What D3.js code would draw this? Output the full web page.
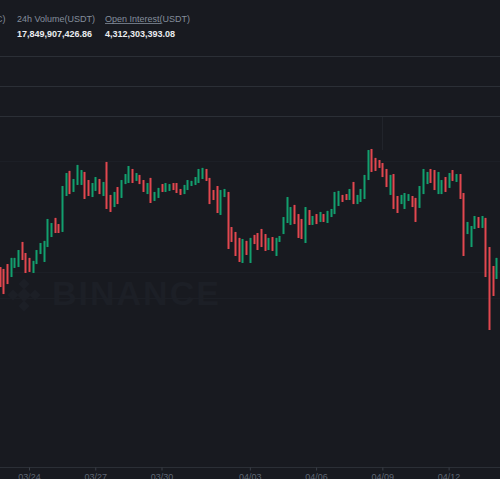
<!DOCTYPE html>
<html>
<head>
<meta charset="utf-8">
<script src="https://cdn.jsdelivr.net/npm/d3@7"></script>
<style>
  html, body { margin: 0; padding: 0; background: #181a20; }
  svg { display: block; }
  text { font-family: "Liberation Sans", Arial, sans-serif; }
</style>
</head>
<body>
<svg id="chart" width="500" height="479"></svg>
<script>
// ---- data (BTCUSDT perpetual, 4h candles) ----
const firstCandleUTC = Date.UTC(2024, 2, 22, 16); // 2024-03-22 16:00
const candleHours = 4;

const opens = [
  64890,64760,65090,64220,64830,64890,66570,65830,65500,64490,
  65090,65760,65230,66230,66900,68180,67770,67240,69650,71330,
  69920,70390,70390,71260,70720,69580,69990,70790,69650,71930,
  69720,68910,70250,69520,70450,70520,71460,70660,71060,70720,
  69780,70860,69320,69520,70450,69920,69990,70520,70520,70120,
  69780,70050,70320,70390,70520,70790,71460,70860,70050,70320,
  68380,69580,69920,67570,67240,66840,65160,66640,65160,67040,
  67170,67440,67100,66030,66900,65630,66570,67100,67840,67710,
  69050,68440,68110,66500,68710,67710,68440,67910,68440,67840,
  68240,68440,68980,69720,69780,69380,70590,69110,69250,69450,
  70720,72800,72200,72060,71860,71460,69720,71120,69650,69110,
  68780,69320,69650,69520,68850,69780,70450,71460,71390,69780,
  69780,70920,70190,71390,70590,71120,69850,67100,66230,67440,
  68240,67510,68180,66230,64960,64090
];
const highs = [
  64890,64760,65090,65500,65500,66030,66570,65830,65500,65300,
  66030,66500,66640,68110,67840,68180,67770,70320,71190,71330,
  70790,71730,71390,71260,70720,70520,70920,70790,70590,71930,
  69720,69920,70250,70720,71120,71660,71460,71190,71060,70720,
  70520,70860,69920,70190,70450,70520,70450,70520,70520,70120,
  70390,70720,70660,70920,71460,71530,71460,70860,70050,70320,
  70050,70120,69920,67570,67240,66840,66770,66640,66840,67040,
  67170,67440,67100,66840,66900,66840,66970,68240,69580,68910,
  69050,68440,68110,68910,68710,68310,68440,68580,68440,68650,
  68780,69920,69990,69720,69780,70120,70590,69720,70120,71060,
  72730,72800,72200,72060,71860,71460,71060,71120,69650,69720,
  69850,69780,69650,69520,70320,71460,71260,71460,71390,71260,
  70720,70920,71190,71390,71120,71120,69850,67910,67640,68310,
  68240,68310,68180,66230,64960,65500
];
const lows = [
  63550,63080,63750,64220,64830,64890,65360,64490,64560,64490,
  65090,65760,65230,66230,66900,67170,67170,67240,69650,69780,
  69920,70390,70390,69450,69650,69580,69990,69780,69650,68780,
  68580,68910,69110,69520,70450,70520,70520,70660,70450,69920,
  69780,69180,69320,69520,69920,69920,69990,70050,69850,69720,
  69780,70050,70320,70390,70520,70790,70660,69110,69380,68510,
  68380,69580,66100,66570,65630,65230,65160,65700,65160,66430,
  66030,66230,65970,66030,65970,65630,66570,67100,67840,67710,
  67770,66840,66770,66500,67710,67710,67770,67910,67910,67840,
  68240,68440,68980,69250,69380,69380,69110,69110,69250,69450,
  70720,71260,71330,71530,70920,70250,69720,68780,68510,69110,
  68780,69320,68910,67910,68850,69780,70450,70520,70050,69780,
  69780,69920,70190,70660,70590,69450,65630,67100,66230,67440,
  67510,67510,64220,60670,62950,64090
];
const closes = [
  63550,63080,63750,65500,65500,66030,65360,64490,64560,65300,
  66030,66500,66640,68110,67840,67170,67170,70320,71190,69780,
  70790,71730,71390,69450,69650,70520,70920,69780,70590,68780,
  68580,69920,69110,70720,71120,71660,70520,71190,70450,69920,
  70520,69180,69920,70190,69920,70520,70450,70050,69850,69720,
  70390,70720,70660,70920,71460,71530,70660,69110,69380,68510,
  70050,70120,66100,66570,65630,65230,66770,65700,66840,66430,
  66030,66230,65970,66840,65970,66840,66970,68240,69580,68910,
  67770,66840,66770,68910,67710,68310,67770,68580,67910,68650,
  68780,69920,69990,69250,69380,70120,69110,69720,70120,71060,
  72730,71260,71330,71530,70920,70250,71060,68780,68510,69720,
  69850,69780,68910,67910,70320,71460,71260,70520,70050,71260,
  70720,69920,71190,70660,71120,69450,65630,67910,67640,68310,
  67510,68310,64220,60670,62950,65500
];

const tickDates = ["2024-03-24","2024-03-27","2024-03-30","2024-04-03","2024-04-06","2024-04-09","2024-04-12"];
const tickLabels = ["03/24","03/27","03/30","04/03","04/06","04/09","04/12"];

const statLabels = ["24h Volume(USDT)", "Open Interest(USDT)"];
const statValues = ["17,849,907,426.86", "4,312,303,393.08"];

// ---- build ----
const candles = opens.map((o, i) => ({
  t: new Date(firstCandleUTC + i * candleHours * 3600e3),
  o, h: highs[i], l: lows[i], c: closes[i]
}));

const svg = d3.select("#chart");
const W = 500, H = 479;
const BG = "#181a20", UP = "#129f6e", DOWN = "#e2474f";

svg.append("rect").attr("width", W).attr("height", H).attr("fill", BG);

// header
const hdr = svg.append("g");
hdr.append("text").attr("x", 5.5).attr("y", 22).attr("text-anchor", "end")
  .attr("font-size", 9).attr("fill", "#848e9c").text("(USDC)");
const statX = [17, 105];
statLabels.forEach((s, i) => {
  hdr.append("text").attr("x", statX[i]).attr("y", 22).attr("font-size", 9)
    .attr("fill", "#848e9c").text(s);
  hdr.append("text").attr("x", statX[i]).attr("y", 36.5).attr("font-size", 9)
    .attr("font-weight", "bold").attr("fill", "#eaecef").text(statValues[i]);
});
hdr.append("line").attr("x1", 105).attr("x2", 161).attr("y1", 23.5).attr("y2", 23.5)
  .attr("stroke", "#848e9c").attr("stroke-width", 0.8);

// panel separators
[56.5, 86.5, 116.5].forEach(y => {
  svg.append("line").attr("x1", 0).attr("x2", W).attr("y1", y).attr("y2", y)
    .attr("stroke", "#2b2f36").attr("stroke-width", 1);
});

// scales
const x = d3.scaleUtc()
  .domain([new Date("2024-03-24T00:00:00Z"), new Date("2024-04-12T00:00:00Z")])
  .range([29, 448.6]);
const y = d3.scaleLinear().domain([60000, 73000]).range([340, 146]);

// faint grid
[72000, 64550, 62800].forEach(v => {
  svg.append("line").attr("x1", 0).attr("x2", W)
    .attr("y1", Math.round(y(v)) + 0.5).attr("y2", Math.round(y(v)) + 0.5)
    .attr("stroke", "#1c1f26").attr("stroke-width", 1);
});
svg.append("line").attr("x1", 382.5).attr("x2", 382.5).attr("y1", 117).attr("y2", 150)
  .attr("stroke", "#21242b");

// watermark
const wm = svg.append("g").attr("fill", "#1c1f26");
wm.append("text").attr("x", 52).attr("y", 305).attr("font-size", 34)
  .attr("font-weight", "bold").attr("letter-spacing", 2).text("BINANCE");
const logo = wm.append("g").attr("transform", "translate(24,295)");
[[0,0,5],[0,-11,4],[0,11,4],[-11,0,4],[11,0,4]].forEach(([dx,dy,s]) => {
  logo.append("rect").attr("x", dx - s).attr("y", dy - s).attr("width", 2*s).attr("height", 2*s)
    .attr("transform", `rotate(45 ${dx} ${dy})`);
});

// candles
const cg = svg.append("g");
const cx = d => Math.round(x(d.t));
cg.selectAll("line.wick").data(candles).join("line")
  .attr("x1", d => cx(d) + 0.5).attr("x2", d => cx(d) + 0.5)
  .attr("y1", d => y(d.h)).attr("y2", d => y(d.l))
  .attr("stroke", d => d.c >= d.o ? UP : DOWN).attr("stroke-width", 1);
cg.selectAll("rect.body").data(candles).join("rect")
  .attr("x", d => cx(d) - 0.5).attr("width", 2)
  .attr("y", d => y(Math.max(d.o, d.c)))
  .attr("height", d => Math.max(1, Math.abs(y(d.o) - y(d.c))))
  .attr("fill", d => d.c >= d.o ? UP : DOWN);

// time axis
svg.append("line").attr("x1", 0).attr("x2", W).attr("y1", 467.5).attr("y2", 467.5)
  .attr("stroke", "#2b2f36");
const axis = d3.axisBottom(x)
  .tickValues(tickDates.map(s => new Date(s + "T00:00:00Z")))
  .tickFormat((d, i) => tickLabels[i])
  .tickSize(3).tickPadding(3);
const ag = svg.append("g").attr("transform", "translate(0,467.5)").call(axis);
ag.select(".domain").remove();
ag.selectAll(".tick line").attr("stroke", "#3a3f47");
ag.selectAll(".tick text").attr("fill", "#5e6673").attr("font-size", 9)
  .attr("font-family", "Liberation Sans, Arial, sans-serif");
</script>
</body>
</html>
